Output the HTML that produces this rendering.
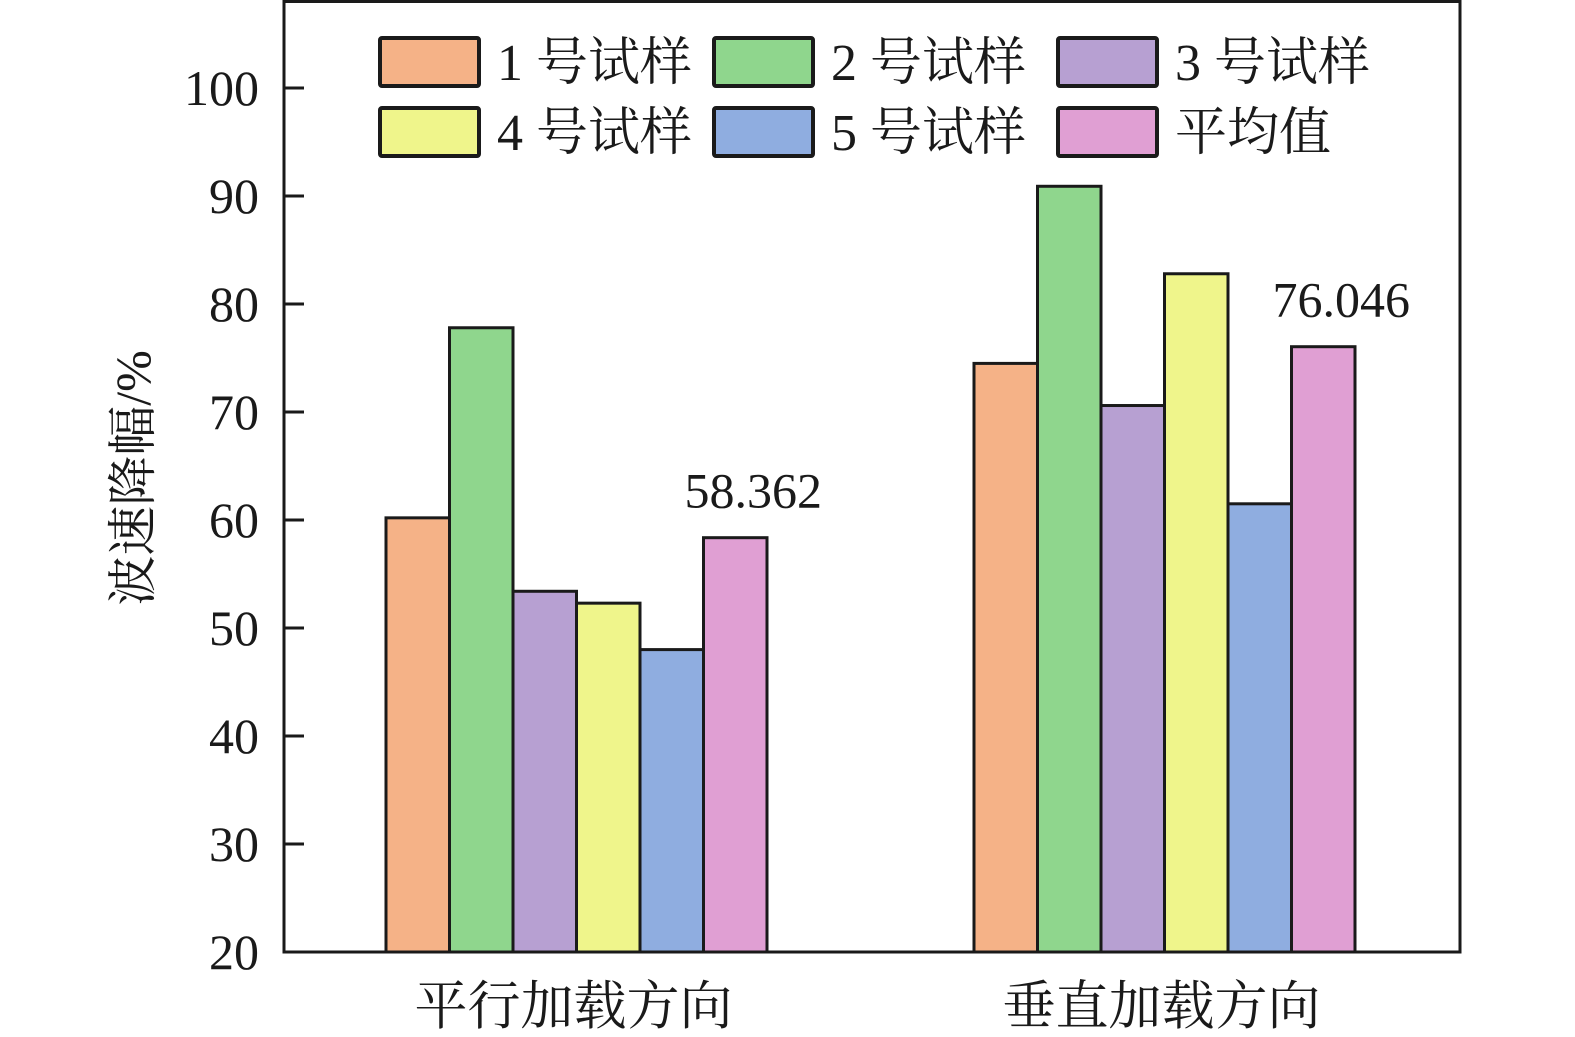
<!DOCTYPE html>
<html><head><meta charset="utf-8"><style>
body{margin:0;background:#fff}
svg{display:block}
text{font-family:"Liberation Serif","Times New Roman","Noto Serif CJK SC",serif;fill:#1a1a1a}
</style></head><body>
<svg id="chart" width="1575" height="1037" viewBox="0 0 1575 1037" xmlns="http://www.w3.org/2000/svg">
<g id="bars"></g>
<g id="axes"></g>
<g id="legend"></g>
</svg>
<script>
const categories = ["平行加载方向", "垂直加载方向"];
const seriesNames = ["1 号试样", "2 号试样", "3 号试样", "4 号试样", "5 号试样", "平均值"];
const s1 = [60.2, 74.5];
const s2 = [77.8, 90.9];
const s3 = [53.4, 70.6];
const s4 = [52.3, 82.8];
const s5 = [48.0, 61.5];
const avg = [58.362, 76.046];
const avgLabels = ["58.362", "76.046"];
const yTicks = [20, 30, 40, 50, 60, 70, 80, 90, 100];

const colors = ["#f5b287", "#8fd68d", "#b7a0d2", "#eff58b", "#8fade0", "#e09fd3"];
const series = [s1, s2, s3, s4, s5, avg];
const NS = "http://www.w3.org/2000/svg";
const X0 = 284, X1 = 1460, Y0 = 952, YMIN = 20, PX = 10.8;
const y = v => Y0 - (v - YMIN) * PX;
const groupStart = [386, 974], barW = 63.5;
const x = (ci, si) => groupStart[ci] + si * barW;
function mk(tag, attrs, parent) { const e = document.createElementNS(NS, tag); for (const k in attrs) e.setAttribute(k, attrs[k]); parent.appendChild(e); return e; }
const bars = document.getElementById('bars'), axes = document.getElementById('axes'), legend = document.getElementById('legend');

series.forEach((s, si) => s.forEach((v, ci) => {
  const r = mk('rect', {x: x(ci, si), y: y(v), width: barW, height: Y0 - y(v), fill: colors[si], stroke: "#1a1a1a", 'stroke-width': 3}, bars);
  
  
}));
avg.forEach((v, ci) => {
  const t = mk('text', {x: x(ci, 5) + barW / 2 + 18, y: y(v) - 30, 'font-size': 50, 'text-anchor': 'middle'}, bars);
  t.textContent = avgLabels[ci];
  
  
});

const frame = mk('rect', {x: X0, y: 1.5, width: X1 - X0, height: Y0 - 1.5, fill: "none", stroke: "#1a1a1a", 'stroke-width': 3}, axes);


yTicks.forEach(v => {
  const l = mk('line', {x1: X0, x2: X0 + 20, y1: y(v), y2: y(v), stroke: "#1a1a1a", 'stroke-width': 3}, axes);
  
  
  const t = mk('text', {x: 259, y: y(v) + 17, 'font-size': 50, 'text-anchor': 'end'}, axes);
  t.textContent = v;
  
  
});
categories.forEach((c, ci) => {
  const t = mk('text', {x: x(ci, 3) - 3, y: 1024, 'font-size': 53, 'text-anchor': 'middle'}, axes);
  t.textContent = c;
  
  
});
const yt = mk('text', {x: 0, y: 0, 'font-size': 50, 'text-anchor': 'middle', transform: 'translate(150,478) rotate(-90)'}, axes);
yt.textContent = "波速降幅/%";



const lx = [380, 714, 1058], ly = [38, 108];
seriesNames.forEach((n, i) => {
  const cx = lx[i % 3], cy = ly[Math.floor(i / 3)];
  const g = mk('g', {}, legend);
  
  
  mk('rect', {x: cx, y: cy, width: 99, height: 48, rx: 2, fill: colors[i], stroke: "#1a1a1a", 'stroke-width': 4}, g);
  const t = mk('text', {x: cx + 117, y: cy + 42, 'font-size': 52}, g);
  t.textContent = n;
});
</script>
</body></html>
